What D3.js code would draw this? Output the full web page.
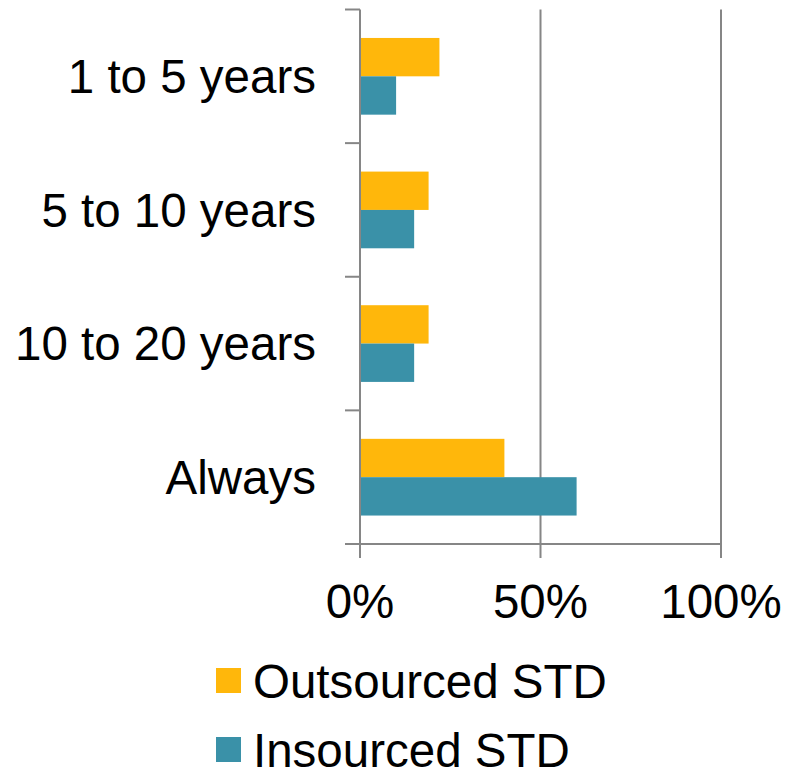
<!DOCTYPE html>
<html>
<head>
<meta charset="utf-8">
<script src="https://cdn.jsdelivr.net/npm/d3@7"></script>
<style>
  body { margin: 0; background: #fff; }
  text { font-family: "Liberation Sans", Arial, sans-serif; fill: #000; }
</style>
</head>
<body>
<div id="chart"></div>
<script>
var categories = ["1 to 5 years", "5 to 10 years", "10 to 20 years", "Always"];
var outsourced = [0.22, 0.19, 0.19, 0.40];
var insourced = [0.10, 0.15, 0.15, 0.60];
var seriesNames = ["Outsourced STD", "Insourced STD"];
var xTicks = [0, 0.5, 1];

var pal = { orange: "#FFB70B", teal: "#3A91A8", axis: "#868686" };

var W = 795, H = 768;
var margin = { left: 360, top: 9.5, right: 74, bottom: 224 };
var width = 361, height = 534.5;
var fs = "47.5px";

var svg = d3.select("#chart").append("svg")
    .attr("width", W).attr("height", H);
var g = svg.append("g")
    .attr("transform", "translate(" + margin.left + "," + margin.top + ")");

var x = d3.scaleLinear().domain([0, 1]).range([0, width]);
var y = d3.scaleBand().domain(categories).range([0, height]);
var inner = d3.scaleBand().domain(seriesNames).range([y.bandwidth() * 0.213, y.bandwidth() * 0.787]);

// gridlines
g.selectAll(".grid").data(xTicks.slice(1)).enter().append("line")
    .attr("x1", function(d) { return x(d); }).attr("x2", function(d) { return x(d); })
    .attr("y1", 0).attr("y2", height + 14)
    .attr("stroke", pal.axis).attr("stroke-width", 2);

var rows = categories.map(function(c, i) {
  return { cat: c, vals: [outsourced[i], insourced[i]] };
});

var grp = g.selectAll(".row").data(rows).enter().append("g")
    .attr("transform", function(d) { return "translate(0," + y(d.cat) + ")"; });
grp.selectAll("rect").data(function(d) {
  return d.vals.map(function(v, j) { return { name: seriesNames[j], v: v }; });
}).enter().append("rect")
    .attr("x", x(0))
    .attr("y", function(d) { return inner(d.name); })
    .attr("width", function(d) { return x(d.v) - x(0); })
    .attr("height", inner.bandwidth())
    .attr("fill", function(d) { return d.name === seriesNames[0] ? pal.orange : pal.teal; });

// y axis
var yAxis = g.append("g");
yAxis.append("line").attr("x1", 0).attr("x2", 0).attr("y1", 0).attr("y2", height + 14)
    .attr("stroke", pal.axis).attr("stroke-width", 2);
var yTickPos = categories.map(function(c) { return y(c); }).concat([height]);
yAxis.selectAll(".yt").data(yTickPos).enter().append("line")
    .attr("x1", -15).attr("x2", 0)
    .attr("y1", function(d) { return d; }).attr("y2", function(d) { return d; })
    .attr("stroke", pal.axis).attr("stroke-width", 2);
yAxis.selectAll(".yl").data(categories).enter().append("text")
    .attr("x", -44)
    .attr("y", function(d) { return y(d) + y.bandwidth() / 2; })
    .attr("dy", "0.35em")
    .attr("text-anchor", "end")
    .attr("font-size", fs)
    .text(function(d) { return d; });

// x axis
g.append("line").attr("x1", 0).attr("x2", width).attr("y1", height).attr("y2", height)
    .attr("stroke", pal.axis).attr("stroke-width", 2);
g.selectAll(".xl").data(xTicks).enter().append("text")
    .attr("x", function(d) { return x(d); })
    .attr("y", height + 74)
    .attr("text-anchor", "middle")
    .attr("font-size", fs)
    .text(function(d) { return d3.format(".0%")(d); });

// legend
var legend = svg.selectAll(".lg").data(seriesNames).enter().append("g")
    .attr("transform", function(d, i) { return "translate(216," + (668 + i * 69) + ")"; });
legend.append("rect").attr("width", 25).attr("height", 25)
    .attr("fill", function(d, i) { return i === 0 ? pal.orange : pal.teal; });
legend.append("text").attr("x", 37).attr("y", 29.5)
    .attr("font-size", fs)
    .text(function(d) { return d; });
</script>
</body>
</html>
